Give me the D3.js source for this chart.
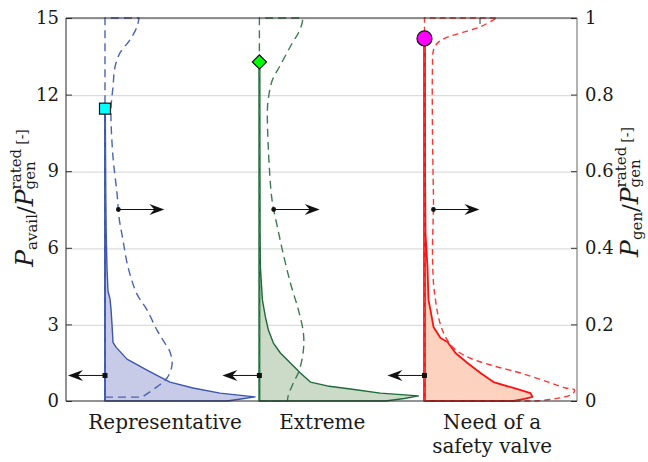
<!DOCTYPE html>
<html>
<head>
<meta charset="utf-8">
<script src="https://cdn.jsdelivr.net/npm/d3@7"></script>
<style>
  body { margin: 0; background: #fff; }
  text { font-family: "DejaVu Serif", serif; fill: #1a1a1a; }
</style>
</head>
<body>
<div id="chart"></div>
<script>
// categories and their label lines
const categories = ['Representative', 'Extreme', 'Need of a safety valve'];
const categoryLines = [['Representative'], ['Extreme'], ['Need of a', 'safety valve']];

// left axis (P_avail / P_gen^rated) and right axis (P_gen / P_gen^rated) ticks
const leftTicks = [0, 3, 6, 9, 12, 15];
const rightTicks = [0, 0.2, 0.4, 0.6, 0.8, 1];

// available power distributions (solid, left axis): levels and densities
const repAvailY = [0, 0.08, 0.16, 0.31, 0.51, 0.74, 1.0, 1.21, 1.64, 2.11, 2.3, 3.0, 3.6, 4.0, 4.3, 5.2, 6.6, 8.0, 10.0, 11.45];
const repAvailW = [1.22, 1.36, 1.5, 1.15, 0.88, 0.65, 0.52, 0.42, 0.22, 0.11, 0.08, 0.07, 0.06, 0.05, 0.03, 0.02, 0.012, 0.008, 0.005, 0.003];
const extAvailY = [0, 0.1, 0.2, 0.31, 0.47, 0.59, 0.74, 1.1, 1.49, 1.88, 2.27, 2.78, 3.29, 3.96, 5.25, 6.6, 9, 11, 13.28];
const extAvailW = [1.26, 1.45, 1.59, 1.21, 0.91, 0.68, 0.51, 0.41, 0.31, 0.21, 0.14, 0.09, 0.06, 0.03, 0.01, 0.006, 0.004, 0.003, 0.002];
const safAvailY = [0, 0.08, 0.16, 0.31, 0.51, 0.74, 1.1, 1.49, 1.88, 2.31, 2.47, 2.9, 3.56, 3.96, 5.25, 6.58, 9, 12, 14.2];
const safAvailW = [0.89, 1.0, 1.08, 1.06, 0.89, 0.69, 0.56, 0.43, 0.31, 0.23, 0.16, 0.09, 0.06, 0.04, 0.03, 0.01, 0.006, 0.004, 0.003];

// generated power distributions (dashed, right axis)
const repGenY = [0.01, 0.037, 0.06, 0.094, 0.128, 0.159, 0.185, 0.238, 0.279, 0.35, 0.42, 0.48, 0.543, 0.637, 0.76, 0.82, 0.872, 0.909, 0.943, 0.977, 1.0];
const repGenW = [0.37, 0.52, 0.62, 0.67, 0.65, 0.58, 0.52, 0.42, 0.32, 0.23, 0.18, 0.14, 0.12, 0.08, 0.06, 0.08, 0.10, 0.15, 0.25, 0.32, 0.34];
const extGenY = [0, 0.016, 0.047, 0.081, 0.133, 0.178, 0.238, 0.308, 0.394, 0.454, 0.504, 0.538, 0.655, 0.76, 0.791, 0.838, 0.877, 0.935, 0.961, 0.99, 1.0];
const extGenW = [0.28, 0.29, 0.34, 0.40, 0.44, 0.44, 0.39, 0.31, 0.23, 0.18, 0.14, 0.12, 0.09, 0.08, 0.09, 0.13, 0.21, 0.33, 0.39, 0.43, 0.43];
const safGenY = [0, 0.008, 0.018, 0.029, 0.034, 0.05, 0.073, 0.094, 0.115, 0.141, 0.178, 0.219, 0.264, 0.308, 0.394, 0.504, 0.525, 0.7, 0.872, 0.916, 0.937, 0.95, 0.963, 0.977, 0.995, 1.0];
const safGenW = [1.12, 1.35, 1.48, 1.50, 1.41, 1.23, 0.96, 0.66, 0.43, 0.28, 0.19, 0.14, 0.11, 0.09, 0.08, 0.09, 0.09, 0.08, 0.08, 0.09, 0.14, 0.23, 0.39, 0.56, 0.69, 0.73];

// maximum available power (marker) and means (arrows)
const maxAvail = [11.45, 13.28, 14.2];
const meanAvail = [1.0, 1.0, 1.0];
const meanGen = [0.5, 0.5, 0.5];

// ---- layout ----
const width = 648, height = 462;
const plotL = 66, plotR = 577, plotT = 18, plotB = 401;
const violinAt = [0.618, 1.6, 2.65];   // baseline of each half violin (x units)
const labelAt = [1, 2, 3.08];
const colors = [
  { line: '#3b56ab', fill: '#c7cbe8', dash: '#4a64b2' },
  { line: '#1d6a38', fill: '#cbdbc8', dash: '#3f7a50' },
  { line: '#ff1010', fill: '#fdd2bf', dash: '#ff3535' }
];

const avail = [[repAvailY, repAvailW], [extAvailY, extAvailW], [safAvailY, safAvailW]];
const gen = [[repGenY, repGenW], [extGenY, extGenW], [safGenY, safGenW]];

const svg = d3.select('#chart').append('svg')
  .attr('width', width).attr('height', height);

const x = d3.scaleLinear().domain([0.37, 3.62]).range([plotL, plotR]);
const yL = d3.scaleLinear().domain([0, 15]).range([plotB, plotT]);
const yR = d3.scaleLinear().domain([0, 1]).range([plotB, plotT]);
const w = d3.scaleLinear().domain([0, 1]).range([0, 100]);

// gridlines
svg.append('g').selectAll('line')
  .data(leftTicks.filter(d => d > 0))
  .join('line')
  .attr('x1', plotL).attr('x2', plotR)
  .attr('y1', d => yL(d) + 1).attr('y2', d => yL(d) + 1)
  .attr('stroke', '#dcdcdc').attr('stroke-width', 1.2);

// solid half violins
avail.forEach(([ys, ws], i) => {
  const base = x(violinAt[i]);
  const pts = ys.map((v, k) => ({ v, d: ws[k] }));
  const area = d3.area()
    .x0(base).x1(p => base + w(p.d))
    .y(p => yL(p.v));
  svg.append('path')
    .attr('d', area(pts))
    .attr('fill', colors[i].fill)
    .attr('stroke', colors[i].line)
    .attr('stroke-width', i === 2 ? 1.8 : 1.4)
    .attr('stroke-linejoin', 'round');
  // stem from the baseline up to the maximum
  svg.append('line')
    .attr('x1', base).attr('x2', base)
    .attr('y1', yL(0)).attr('y2', yL(maxAvail[i]))
    .attr('stroke', colors[i].line)
    .attr('stroke-width', i === 2 ? 2.6 : 1.8);
});

// dashed half violins
const interp = (ys, ws, v) => {
  const k = d3.bisectLeft(ys, v);
  if (k <= 0) return ws[0];
  if (k >= ys.length) return ws[ws.length - 1];
  const t = (v - ys[k - 1]) / (ys[k] - ys[k - 1]);
  return ws[k - 1] + t * (ws[k] - ws[k - 1]);
};

gen.forEach(([ys, ws], i) => {
  const base = x(violinAt[i]);
  const pts = ys.map((v, k) => [base + w(ws[k]), yR(v)]);
  const line = d3.line().curve(d3.curveCatmullRom.alpha(0.5));
  const d = `M${base},${yR(ys[0])}` + line(pts).replace(/^M/, 'L') +
    `L${base},${yR(ys[ys.length - 1])}Z`;
  svg.append('path')
    .attr('d', d)
    .attr('fill', 'none')
    .attr('stroke', colors[i].dash)
    .attr('stroke-width', 1.4)
    .attr('stroke-dasharray', i === 2 ? '6,4' : '8,5');
});

// arrows pointing to the axes
function arrowHead(tx, ty, s) {
  return `M${tx},${ty}L${tx - s * 15},${ty - 5.5}L${tx - s * 10},${ty}L${tx - s * 15},${ty + 5.5}Z`;
}
gen.forEach(([ys, ws], i) => {
  const base = x(violinAt[i]);
  // left arrow: mean of available power
  const ya = yL(meanAvail[i]);
  svg.append('line').attr('x1', base).attr('x2', base - 35).attr('y1', ya).attr('y2', ya)
    .attr('stroke', '#111').attr('stroke-width', 1);
  svg.append('path').attr('d', arrowHead(base - 37, ya, -1)).attr('fill', '#111');
  svg.append('rect').attr('x', base - 2.5).attr('y', ya - 2.5).attr('width', 5).attr('height', 5).attr('fill', '#111');
  // right arrow: mean of generated power, starting on the dashed curve
  const yg = yR(meanGen[i]);
  const xs = base + w(interp(ys, ws, meanGen[i]));
  svg.append('line').attr('x1', xs).attr('x2', xs + 44).attr('y1', yg).attr('y2', yg)
    .attr('stroke', '#111').attr('stroke-width', 1);
  svg.append('path').attr('d', arrowHead(xs + 46, yg, 1)).attr('fill', '#111');
  svg.append('circle').attr('cx', xs).attr('cy', yg).attr('r', 2.4).attr('fill', '#111');
});

// markers for the maximum
const mk = svg.append('g').attr('stroke', '#111').attr('stroke-width', 1.2);
mk.append('rect')
  .attr('x', x(violinAt[0]) - 5.5).attr('y', yL(maxAvail[0]) - 5.5)
  .attr('width', 11).attr('height', 11).attr('fill', '#00ffff');
mk.append('path')
  .attr('d', d3.symbol(d3.symbolSquare, 100)())
  .attr('transform', `translate(${x(violinAt[1])},${yL(maxAvail[1])}) rotate(45)`)
  .attr('fill', '#00ff00');
mk.append('circle')
  .attr('cx', x(violinAt[2])).attr('cy', yL(maxAvail[2])).attr('r', 7.5)
  .attr('fill', '#ff00ff');

// axes
const axL = svg.append('g').attr('transform', `translate(${plotL},0)`)
  .call(d3.axisLeft(yL).tickValues(leftTicks).tickSize(-6).tickPadding(7));
const axR = svg.append('g').attr('transform', `translate(${plotR},0)`)
  .call(d3.axisRight(yR).tickValues(rightTicks).tickSize(-6).tickPadding(8).tickFormat(d3.format('')));
const axT = svg.append('g').attr('transform', `translate(0,${plotT})`)
  .call(d3.axisTop(x).tickValues([3]).tickSize(-6).tickFormat(''));
[axL, axR, axT].forEach(a => {
  a.select('.domain').remove();
  a.selectAll('text').attr('font-size', 18).attr('font-family', '"DejaVu Serif", serif').attr('fill', '#1a1a1a');
  a.selectAll('line').attr('stroke', '#333');
});

// frame
svg.append('line').attr('x1', plotL).attr('x2', plotR).attr('y1', plotT).attr('y2', plotT).attr('stroke', '#262626');
svg.append('line').attr('x1', plotL).attr('x2', plotR).attr('y1', plotB).attr('y2', plotB).attr('stroke', '#262626');
svg.append('line').attr('x1', plotL).attr('x2', plotL).attr('y1', plotT).attr('y2', plotB).attr('stroke', '#262626');
svg.append('line').attr('x1', plotR).attr('x2', plotR).attr('y1', plotT).attr('y2', plotB).attr('stroke', '#666');

// category labels
categoryLines.forEach((lines, i) => {
  const t = svg.append('text')
    .attr('x', x(labelAt[i])).attr('y', 429)
    .attr('text-anchor', 'middle').attr('font-size', 20);
  lines.forEach((s, k) => t.append('tspan')
    .attr('x', x(labelAt[i])).attr('dy', k === 0 ? 0 : 24).text(s));
});

// axis titles P_a / P_gen^rated [-]
function axisTitle(tx, ty, sub) {
  const t = svg.append('text')
    .attr('transform', `translate(${tx},${ty}) rotate(-90)`)
    .attr('text-anchor', 'middle');
  t.append('tspan').attr('font-size', 25).attr('font-style', 'italic').text('P');
  t.append('tspan').attr('font-size', 15).attr('dy', 4).text(sub);
  t.append('tspan').attr('font-size', 23).attr('dy', -4).text('/');
  t.append('tspan').attr('font-size', 25).attr('font-style', 'italic').text('P');
  const sup = t.append('tspan').attr('font-size', 15).attr('dy', -12).text('rated');
  const lr = sup.node().getComputedTextLength();
  const gn = t.append('tspan').attr('font-size', 15).attr('dx', -lr).attr('dy', 14).text('gen');
  const lg = gn.node().getComputedTextLength();
  t.append('tspan').attr('font-size', 14).attr('dx', lr - lg + 4).attr('dy', -8).text('[-]');
}
axisTitle(33, 198, 'avail');
axisTitle(638, 192, 'gen');
</script>
</body>
</html>
